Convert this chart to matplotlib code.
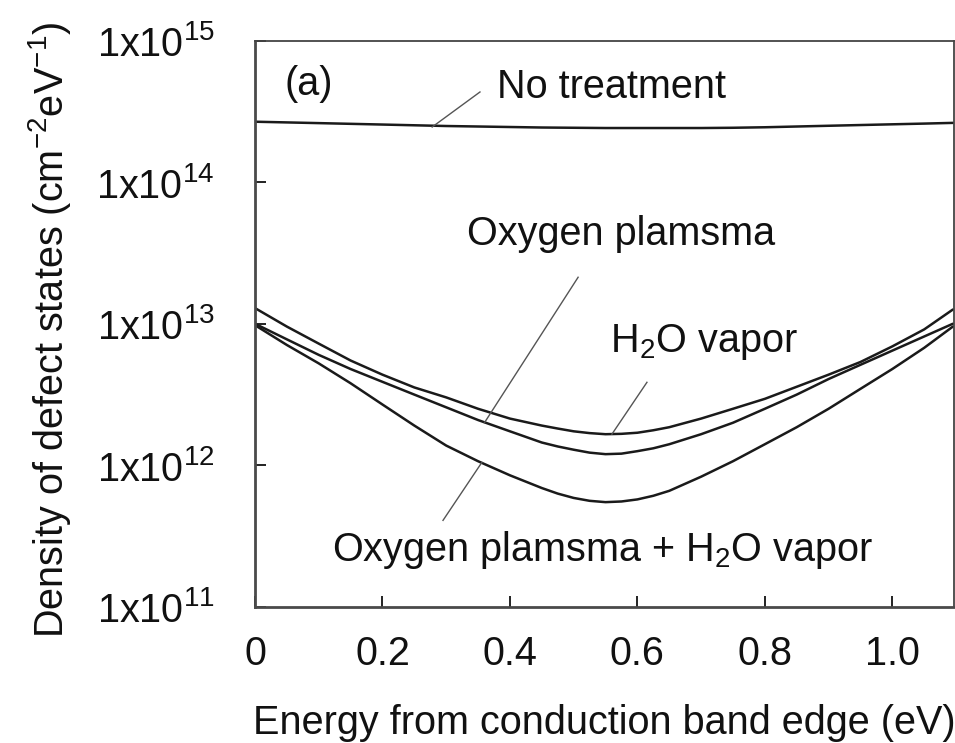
import numpy as np
import matplotlib
matplotlib.use("Agg")
import matplotlib.pyplot as plt
from matplotlib.ticker import FixedLocator, FixedFormatter, NullLocator

plt.rcParams['font.family'] = ['Liberation Sans', 'DejaVu Sans']
plt.rcParams['mathtext.fontset'] = 'custom'
plt.rcParams['mathtext.rm'] = 'Liberation Sans'
plt.rcParams['mathtext.it'] = 'Liberation Sans:italic'
plt.rcParams['mathtext.bf'] = 'Liberation Sans:bold'

# energy from conduction band edge (eV)
energy = [0.0, 0.05, 0.1, 0.15, 0.2, 0.25, 0.3, 0.35, 0.4, 0.45, 0.475, 0.5, 0.525,
          0.55, 0.575, 0.6, 0.625, 0.65, 0.7, 0.75, 0.8, 0.85, 0.9, 0.95, 1.0, 1.05, 1.095]

# density of defect states (cm^-2 eV^-1)
no_treatment = [2.67e14, 2.64e14, 2.61e14, 2.58e14, 2.55e14, 2.52e14, 2.49e14, 2.47e14,
                2.45e14, 2.43e14, 2.425e14, 2.42e14, 2.415e14, 2.41e14, 2.41e14, 2.41e14,
                2.41e14, 2.41e14, 2.41e14, 2.42e14, 2.44e14, 2.47e14, 2.50e14, 2.53e14,
                2.56e14, 2.59e14, 2.62e14]
h2o_vapor = [1.29e13, 9.55e12, 7.24e12, 5.50e12, 4.37e12, 3.55e12, 3.02e12, 2.51e12,
             2.14e12, 1.91e12, 1.82e12, 1.74e12, 1.69e12, 1.66e12, 1.67e12, 1.70e12,
             1.77e12, 1.86e12, 2.14e12, 2.51e12, 2.95e12, 3.59e12, 4.37e12, 5.37e12,
             6.92e12, 9.12e12, 1.26e13]
oxygen_plasma = [1.00e13, 7.76e12, 6.03e12, 4.79e12, 3.89e12, 3.16e12, 2.57e12, 2.09e12,
                 1.74e12, 1.45e12, 1.36e12, 1.29e12, 1.23e12, 1.20e12, 1.21e12, 1.26e12,
                 1.32e12, 1.41e12, 1.66e12, 2.00e12, 2.51e12, 3.16e12, 4.07e12, 5.13e12,
                 6.46e12, 8.13e12, 1.00e13]
oxygen_plasma_h2o = [9.77e12, 7.08e12, 5.25e12, 3.80e12, 2.69e12, 1.91e12, 1.38e12, 1.07e12,
                     8.51e11, 6.92e11, 6.32e11, 5.89e11, 5.62e11, 5.50e11, 5.56e11, 5.75e11,
                     6.10e11, 6.61e11, 8.32e11, 1.07e12, 1.41e12, 1.86e12, 2.51e12, 3.47e12,
                     4.79e12, 6.76e12, 9.55e12]

x_ticks = [0, 0.2, 0.4, 0.6, 0.8, 1.0]
x_tick_labels = ['0', '0.2', '0.4', '0.6', '0.8', '1.0']
y_ticks = [1e11, 1e12, 1e13, 1e14, 1e15]
y_tick_labels = ['1x10$^{11}$', '1x10$^{12}$', '1x10$^{13}$', '1x10$^{14}$', '1x10$^{15}$']

# curve labels: text, anchor (left, baseline), leader line (x pair, y pair)
labels = ['No treatment', 'Oxygen plamsma', 'H$_2$O vapor', 'Oxygen plamsma + H$_2$O vapor']
label_x = [0.380, 0.3325, 0.557, 0.121]
label_y = [3.93e14, 3.59e13, 6.3e12, 2.1e11]
leader_x = [(0.278, 0.353), (0.507, 0.360), (0.615, 0.560), (0.356, 0.295)]
leader_y = [(2.45e14, 4.33e14), (2.13e13, 2.0e12), (3.86e12, 1.66e12), (1.05e12, 4.09e11)]

fs = 28.5
fig = plt.figure(figsize=(9.55, 7.43), dpi=100)
ax = fig.add_axes([255 / 955, 1 - 607 / 743, (953.5 - 255) / 955, (607 - 40.5) / 743])

for series in [no_treatment, h2o_vapor, oxygen_plasma, oxygen_plasma_h2o]:
    ax.plot(energy, series, color='#1a1a1a', lw=1.8, solid_capstyle='round',
            solid_joinstyle='round')

for lx, ly in zip(leader_x, leader_y):
    ax.plot(lx, ly, color='#555555', lw=1.0)

for txt, tx, ty in zip(labels, label_x, label_y):
    ax.text(tx, ty, txt, fontsize=fs, ha='left', va='baseline', color='#111111')

ax.text(0.047, 4.12e14, '(a)', fontsize=fs, ha='left', va='baseline', color='#111111')

ax.set_yscale('log')
ax.set_xlim(0, 1.096)
ax.set_ylim(1e11, 1e15)

ax.xaxis.set_major_locator(FixedLocator(x_ticks))
ax.xaxis.set_major_formatter(FixedFormatter(x_tick_labels))
ax.yaxis.set_major_locator(FixedLocator(y_ticks))
ax.yaxis.set_major_formatter(FixedFormatter(y_tick_labels))
ax.yaxis.set_minor_locator(NullLocator())
ax.xaxis.set_minor_locator(NullLocator())

ax.tick_params(axis='both', direction='in', length=8, width=1.4, color='#222222',
               labelsize=fs, labelcolor='#111111')
ax.tick_params(axis='x', pad=20)
ax.tick_params(axis='y', pad=29)

for side in ['left', 'bottom']:
    ax.spines[side].set_linewidth(2.0)
    ax.spines[side].set_color('#4a4a4a')
for side in ['top', 'right']:
    ax.spines[side].set_linewidth(1.3)
    ax.spines[side].set_color('#444444')

fig.text(50 / 955, 1 - 330 / 743, 'Density of defect states (cm$^{-2}$eV$^{-1}$)',
         rotation=90, fontsize=fs, ha='center', va='center', color='#111111')
fig.text(604 / 955, 1 - 734 / 743, 'Energy from conduction band edge (eV)',
         fontsize=fs, ha='center', va='baseline', color='#111111')

fig.savefig('out.png', dpi=100)
